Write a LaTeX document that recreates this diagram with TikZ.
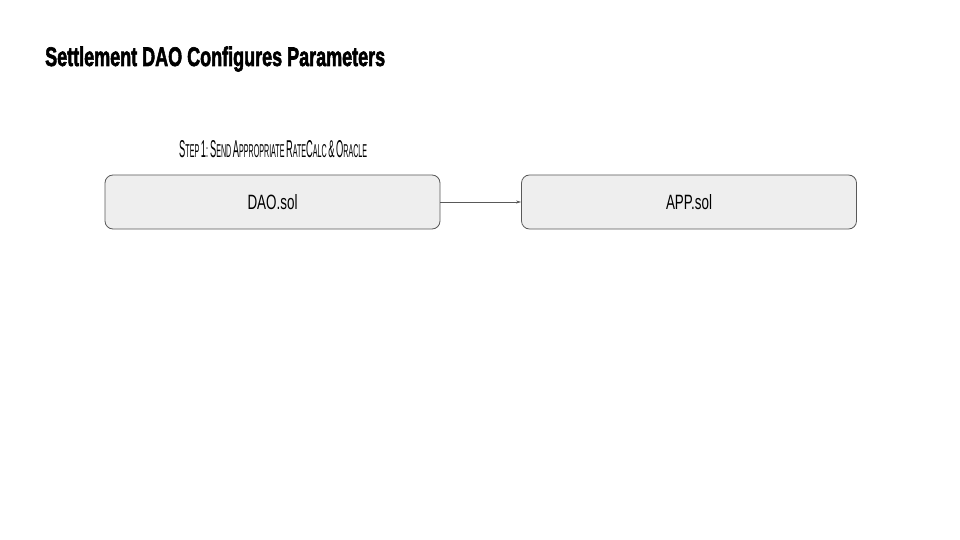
\documentclass[tikz,border=0pt]{standalone}
\usepackage{fontspec}
\setmainfont{Liberation Sans}
\newfontfamily\heavyfont[FakeBold=2.5]{Liberation Sans Bold}
\usetikzlibrary{arrows.meta}
\definecolor{boxfill}{HTML}{EEEEEE}
\definecolor{boxline}{HTML}{595959}
\newcommand{\bigc}[1]{{\fontsize{17}{17}\selectfont #1}}
\newcommand{\smc}[1]{{\fontsize{13}{13}\selectfont #1}}
\tikzset{
  compbox/.style={draw=boxline, fill=boxfill, line width=0.8pt, rounded corners=8pt,
    minimum width=335pt, minimum height=54pt, inner sep=0pt},
  flow/.style={draw=boxline, line width=0.7pt, -{Stealth[length=5pt,width=3pt]}},
  plain/.style={inner sep=0pt, anchor=base west}
}
\begin{document}
\begin{tikzpicture}[x=1pt,y=-1pt]
\useasboundingbox (0,0) rectangle (960,540);
\fill[white] (0,0) rectangle (960,540);
\node[plain] (title) at (45,66) {\resizebox{340pt}{19.5pt}{\heavyfont Settlement DAO Configures Parameters}};
\node[plain] (step) at (179,158) {\resizebox{188pt}{17pt}{\bigc{S}\smc{TEP} \bigc{1}\smc{:} \bigc{S}\smc{END} \bigc{A}\smc{PPROPRIATE} \bigc{R}\smc{ATE}\bigc{C}\smc{ALC} \bigc{\&} \bigc{O}\smc{RACLE}}};
\node[compbox] (dao) at (272.5,202) {\resizebox{50pt}{15pt}{DAO.sol}};
\node[compbox] (app) at (689,202) {\resizebox{46pt}{15pt}{APP.sol}};
\draw[flow] (dao.east) -- (app.west);
\end{tikzpicture}
\end{document}
